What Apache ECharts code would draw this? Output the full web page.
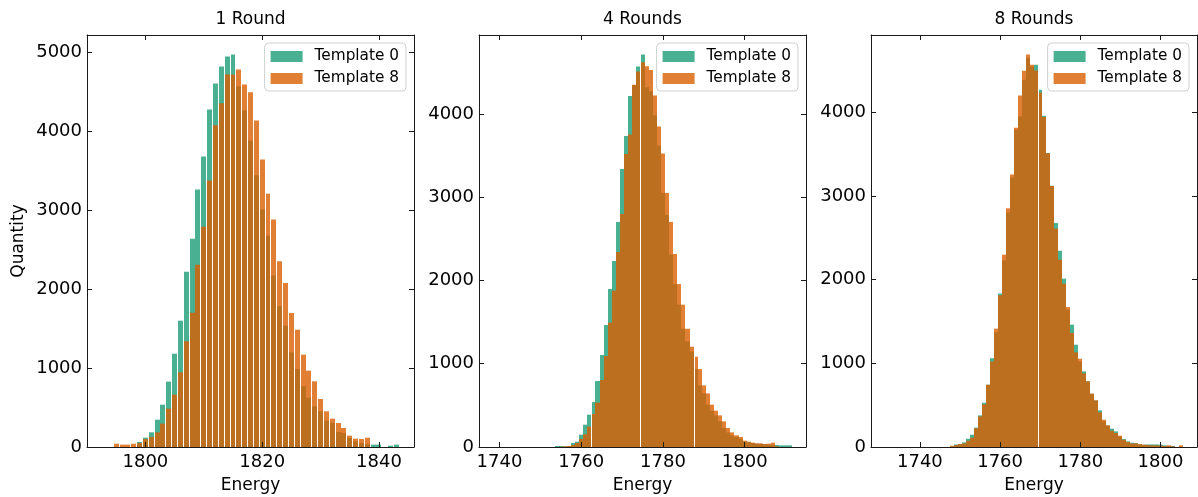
<!DOCTYPE html>
<html>
<head>
<meta charset="utf-8">
<title>Energy histograms by round</title>
<script src="https://cdn.jsdelivr.net/npm/echarts@6/dist/echarts.min.js"></script>
<style>
  html, body { margin: 0; padding: 0; background: #ffffff; }
  #chart { width: 1198px; height: 497px; }
</style>
</head>
<body>
<div id="chart"></div>
<script>
// ---- data: counts per integer energy bin ----
const seriesNames = ['Template 0', 'Template 8'];
const panelTitles = ['1 Round', '4 Rounds', '8 Rounds'];

const round1Energy = [1795, 1796, 1797, 1798, 1799, 1800, 1801, 1802, 1803, 1804,
  1805, 1806, 1807, 1808, 1809, 1810, 1811, 1812, 1813, 1814,
  1815, 1816, 1817, 1818, 1819, 1820, 1821, 1822, 1823, 1824,
  1825, 1826, 1827, 1828, 1829, 1830, 1831, 1832, 1833, 1834,
  1835, 1836, 1837, 1838, 1839, 1840, 1841, 1842, 1843];
const round1Template0 = [0, 0, 0, 0, 63, 118, 186, 346, 536, 828,
  1182, 1600, 2221, 2639, 3260, 3678, 4274, 4603, 4819, 4945,
  4970, 4570, 4266, 3881, 3442, 3007, 2677, 2171, 1782, 1537,
  1199, 988, 769, 625, 515, 452, 334, 304, 190, 177,
  114, 72, 51, 38, 30, 30, 0, 17, 30];
const round1Template8 = [42, 30, 30, 42, 50, 100, 127, 186, 296, 486,
  663, 946, 1339, 1702, 2310, 2791, 3374, 4075, 4354, 4717,
  4717, 4780, 4592, 4493, 4134, 3640, 3209, 2880, 2352, 2078,
  1698, 1486, 1170, 967, 832, 608, 452, 359, 304, 241,
  144, 106, 101, 118, 0, 0, 0, 0, 0];

const round4Energy = [1754, 1755, 1756, 1757, 1758, 1759, 1760, 1761, 1762, 1763,
  1764, 1765, 1766, 1767, 1768, 1769, 1770, 1771, 1772, 1773,
  1774, 1775, 1776, 1777, 1778, 1779, 1780, 1781, 1782, 1783,
  1784, 1785, 1786, 1787, 1788, 1789, 1790, 1791, 1792, 1793,
  1794, 1795, 1796, 1797, 1798, 1799, 1800, 1801, 1802, 1803,
  1804, 1805, 1806, 1807, 1808, 1809, 1810, 1811];
const round4Template0 = [12, 12, 8, 12, 48, 64, 148, 268, 388, 541,
  793, 1105, 1465, 1898, 2234, 2703, 3339, 3736, 4216, 4345,
  4568, 4712, 4320, 4271, 3980, 3619, 3051, 2787, 2310, 1957,
  1709, 1420, 1268, 1148, 936, 740, 644, 508, 436, 380,
  308, 228, 176, 140, 120, 96, 64, 56, 48, 40,
  36, 32, 28, 24, 24, 20, 20, 20];
const round4Template8 = [0, 4, 8, 12, 24, 48, 96, 152, 244, 396,
  533, 805, 1093, 1493, 1878, 2342, 2799, 3520, 3752, 4350,
  4510, 4620, 4572, 4528, 4222, 3850, 3525, 3051, 2703, 2318,
  1957, 1709, 1420, 1204, 1084, 936, 740, 644, 508, 436,
  380, 308, 228, 176, 140, 120, 76, 64, 52, 44,
  44, 36, 40, 52, 8, 0, 0, 0];

const round8Energy = [1748, 1749, 1750, 1751, 1752, 1753, 1754, 1755, 1756, 1757,
  1758, 1759, 1760, 1761, 1762, 1763, 1764, 1765, 1766, 1767,
  1768, 1769, 1770, 1771, 1772, 1773, 1774, 1775, 1776, 1777,
  1778, 1779, 1780, 1781, 1782, 1783, 1784, 1785, 1786, 1787,
  1788, 1789, 1790, 1791, 1792, 1793, 1794, 1795, 1796, 1797,
  1798, 1799, 1800, 1801, 1802, 1803, 1804, 1805];
const round8Template0 = [8, 31, 35, 55, 99, 147, 231, 378, 529, 744,
  1061, 1371, 1833, 2231, 2805, 3220, 3793, 3953, 4391, 4653,
  4546, 4570, 4271, 3960, 3514, 3124, 2677, 2346, 2012, 1641,
  1462, 1223, 1023, 904, 785, 637, 557, 438, 306, 258,
  219, 187, 127, 95, 67, 51, 47, 31, 27, 31,
  31, 31, 27, 20, 12, 12, 0, 0];
const round8Template8 = [15, 23, 35, 43, 75, 111, 223, 366, 509, 744,
  1023, 1415, 1813, 2299, 2853, 3256, 3817, 4200, 4498, 4690,
  4570, 4500, 4235, 3945, 3510, 3120, 2610, 2238, 1952, 1673,
  1363, 1131, 1055, 880, 785, 637, 557, 414, 326, 258,
  195, 167, 135, 87, 59, 43, 43, 35, 27, 23,
  20, 20, 15, 12, 20, 8, 0, 20];

// ---- tick labels ----
const round1EnergyTicks = [1800, 1820, 1840];
const laterEnergyTicks = [1740, 1760, 1780, 1800];
const round1CountTicks = [0, 1000, 2000, 3000, 4000, 5000];
const laterCountTicks = [0, 1000, 2000, 3000, 4000];

// ---- styling ----
const FONT = 'DejaVu Sans';
const GREEN = 'rgba(27,158,119,0.8)';
const ORANGE = 'rgba(217,95,2,0.8)';
const INK = '#1a1a1a';
const CHART_W = 1198;
const TICK_SIZE = 18;
const NAME_SIZE = 17;
const LEGEND_SIZE = 15.3;

// panel layout: plot-area box, energy range shown, bar fill fraction,
// and bin edges where the renderer leaves a one-pixel seam
const panels = [
  { title: panelTitles[0], energy: round1Energy, t0: round1Template0, t8: round1Template8,
    left: 87, width: 327, xMin: 1790, xMax: 1846,
    xTicks: round1EnergyTicks, yTicks: round1CountTicks, barFrac: 0.85, seams: [], yName: 'Quantity' },
  { title: panelTitles[1], energy: round4Energy, t0: round4Template0, t8: round4Template8,
    left: 479, width: 327, xMin: 1735, xMax: 1815,
    xTicks: laterEnergyTicks, yTicks: laterCountTicks, barFrac: 1, seams: [1762.5, 1774.5, 1787.5], yName: '' },
  { title: panelTitles[2], energy: round8Energy, t0: round8Template0, t8: round8Template8,
    left: 871, width: 326, xMin: 1727.8, xMax: 1809.1,
    xTicks: laterEnergyTicks, yTicks: laterCountTicks, barFrac: 1, seams: [1769.5], yName: '' }
];
const GRID_TOP = 35, GRID_H = 412;

// histogram bar: one rectangle per bin, snapped to whole pixels
function makeRender(frac, seams) {
  return function (params, api) {
    const e = api.value(0), n = api.value(1);
    if (!(n > 0)) return null;
    const base = api.coord([e, 0]);
    const top = api.coord([e, n]);
    let x0 = Math.round(api.coord([e - frac / 2, 0])[0]);
    const x1 = Math.round(api.coord([e + frac / 2, 0])[0]);
    if (seams.indexOf(e - 0.5) >= 0) x0 += 1;
    return {
      type: 'rect',
      shape: { x: x0, y: top[1], width: x1 - x0, height: base[1] - top[1] },
      style: { fill: api.visual('color') }
    };
  };
}

const plain = function (v) { return String(v); };
const grids = [], xAxes = [], yAxes = [], series = [], legends = [];
const tickStyle = { inside: true, length: 5, lineStyle: { color: INK, width: 1 } };
const lineStyle = { show: true, onZero: false, lineStyle: { color: INK, width: 1 } };
const labelFont = { fontFamily: FONT, fontSize: TICK_SIZE, color: '#000', formatter: plain };
const nameFont = { fontFamily: FONT, fontSize: NAME_SIZE, color: '#000' };

panels.forEach(function (p, i) {
  const yMax = Math.max.apply(null, p.t0.concat(p.t8)) * 1.05;
  // plot box is fixed; labels and names may sit outside it
  grids.push({ left: p.left, top: GRID_TOP, width: p.width, height: GRID_H,
    containLabel: false, outerBoundsMode: 'none' });

  xAxes.push({
    type: 'value', gridIndex: i, position: 'bottom', min: p.xMin, max: p.xMax, z: 5,
    axisLine: lineStyle,
    axisTick: Object.assign({ customValues: p.xTicks }, tickStyle),
    axisLabel: Object.assign({ customValues: p.xTicks, margin: 6 }, labelFont),
    splitLine: { show: false },
    name: 'Energy', nameLocation: 'middle', nameGap: 30, nameMoveOverlap: false,
    nameTextStyle: nameFont
  });
  xAxes.push({
    type: 'value', gridIndex: i, position: 'top', min: p.xMin, max: p.xMax, z: 5,
    axisLine: lineStyle,
    axisTick: Object.assign({ customValues: p.xTicks }, tickStyle),
    axisLabel: { show: false },
    splitLine: { show: false },
    name: p.title, nameLocation: 'middle', nameGap: 7, nameMoveOverlap: false,
    nameTextStyle: nameFont
  });
  yAxes.push({
    type: 'value', gridIndex: i, position: 'left', min: 0, max: yMax, z: 5,
    axisLine: lineStyle,
    axisTick: Object.assign({ customValues: p.yTicks }, tickStyle),
    axisLabel: Object.assign({ customValues: p.yTicks, margin: 5 }, labelFont),
    splitLine: { show: false },
    name: p.yName, nameLocation: 'middle', nameGap: 60, nameMoveOverlap: false,
    nameTextStyle: nameFont
  });
  yAxes.push({
    type: 'value', gridIndex: i, position: 'right', min: 0, max: yMax, z: 5,
    axisLine: lineStyle,
    axisTick: Object.assign({ customValues: p.yTicks }, tickStyle),
    axisLabel: { show: false },
    splitLine: { show: false }
  });

  [[p.t0, GREEN, seriesNames[0]], [p.t8, ORANGE, seriesNames[1]]].forEach(function (s, k) {
    series.push({
      type: 'custom', name: s[2], xAxisIndex: 2 * i, yAxisIndex: 2 * i,
      itemStyle: { color: s[1] },
      renderItem: makeRender(p.barFrac, p.seams),
      encode: { x: 0, y: 1 },
      data: p.energy.map(function (e, j) { return [e, s[0][j]]; }),
      clip: true, silent: true, animation: false, z: 2 + k
    });
  });

  legends.push({
    orient: 'vertical', right: CHART_W - (p.left + p.width) + 8, top: GRID_TOP + 8,
    data: seriesNames, icon: 'rect', itemWidth: 32, itemHeight: 11, itemGap: 7,
    backgroundColor: 'rgba(255,255,255,0.8)', borderColor: '#d0d0d0', borderWidth: 1, borderRadius: 4,
    padding: [6, 7, 5, 6], selectedMode: false, z: 6,
    textStyle: { fontFamily: FONT, fontSize: LEGEND_SIZE, color: '#000', padding: [0, 0, 0, 7] }
  });
});

const chart = echarts.init(document.getElementById('chart'), null, { renderer: 'canvas' });
chart.setOption({
  animation: false,
  backgroundColor: '#ffffff',
  textStyle: { fontFamily: FONT },
  grid: grids,
  xAxis: xAxes,
  yAxis: yAxes,
  legend: legends,
  series: series
});
</script>
</body>
</html>
